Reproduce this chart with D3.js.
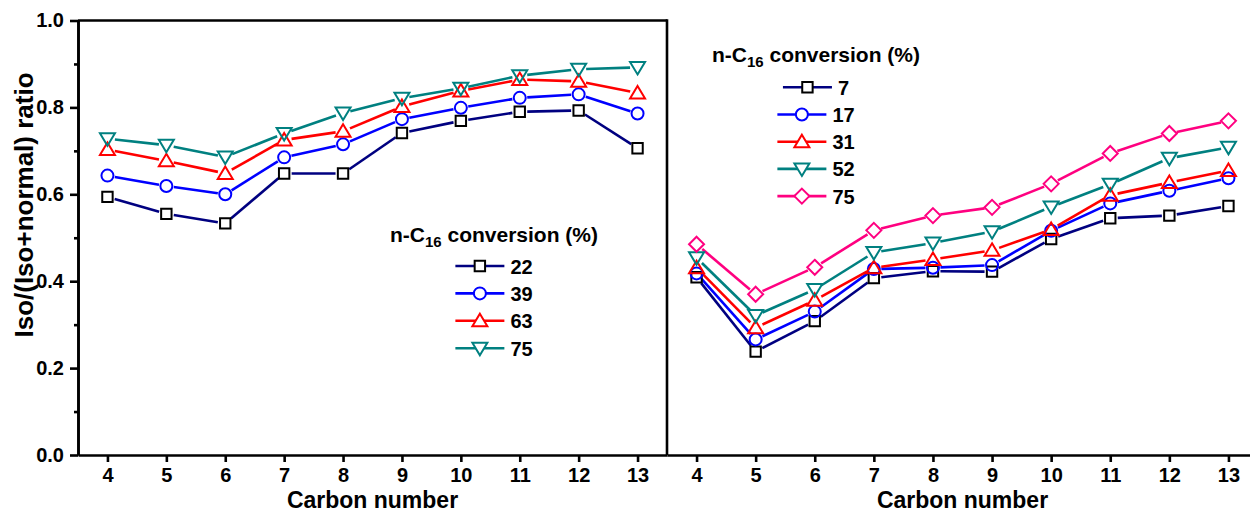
<script src="https://cdn.jsdelivr.net/npm/d3@7"></script>
<html>
<body style="margin:0;background:#fff">
<svg id="chart" width="1250" height="517"></svg>
<script>
// carbon numbers on the x axis
var carbons = [4, 5, 6, 7, 8, 9, 10, 11, 12, 13];
var yTicks = [0, 0.2, 0.4, 0.6, 0.8, 1.0];
var yMinor = [0.1, 0.3, 0.5, 0.7, 0.9];

// left panel: n-C16 conversion 22, 39, 63, 75 %
var leftNames = ["22", "39", "63", "75"];
var left22 = [0.594, 0.555, 0.533, 0.648, 0.648, 0.741, 0.769, 0.790, 0.793, 0.706];
var left39 = [0.643, 0.619, 0.600, 0.685, 0.715, 0.773, 0.799, 0.822, 0.830, 0.786];
var left63 = [0.703, 0.677, 0.648, 0.725, 0.745, 0.802, 0.838, 0.864, 0.860, 0.833];
var left75 = [0.728, 0.713, 0.686, 0.740, 0.787, 0.821, 0.844, 0.873, 0.888, 0.892];

// right panel: n-C16 conversion 7, 17, 31, 52, 75 %
var rightNames = ["7", "17", "31", "52", "75"];
var right7  = [0.409, 0.238, 0.308, 0.407, 0.423, 0.422, 0.497, 0.545, 0.551, 0.573];
var right17 = [0.418, 0.266, 0.330, 0.428, 0.431, 0.437, 0.516, 0.579, 0.608, 0.637];
var right31 = [0.431, 0.293, 0.356, 0.431, 0.450, 0.471, 0.519, 0.598, 0.627, 0.655];
var right52 = [0.454, 0.321, 0.381, 0.466, 0.488, 0.514, 0.571, 0.623, 0.683, 0.708];
var right75 = [0.485, 0.370, 0.432, 0.517, 0.551, 0.570, 0.624, 0.694, 0.740, 0.769];

var svg = d3.select("#chart");
var FONT = "'Liberation Sans', Arial, sans-serif";

var y = d3.scaleLinear().domain([0, 1]).range([455, 20.5]);
var xL = d3.scaleLinear().domain([3.5, 13.5]).range([78, 667]);
var xR = d3.scaleLinear().domain([3.5, 13.5]).range([667, 1258]);

// marker shapes
var shapes = {
  square: "M-5.2,-5.2h10.4v10.4h-10.4Z",
  circle: d3.symbol().type(d3.symbolCircle).size(Math.PI * 36)(),
  up: "M0,-7L7.5,5.5L-7.5,5.5Z",
  down: "M0,7L7.5,-5.5L-7.5,-5.5Z",
  diamond: "M0,-7.5L7.5,0L0,7.5L-7.5,0Z"
};

var leftSeries = [
  {name: leftNames[0], vals: left22, line: "#000080", mark: "#000000", shape: "square"},
  {name: leftNames[1], vals: left39, line: "#0000ff", mark: "#0000ff", shape: "circle"},
  {name: leftNames[2], vals: left63, line: "#ff0000", mark: "#ff0000", shape: "up"},
  {name: leftNames[3], vals: left75, line: "#008080", mark: "#008080", shape: "down"}
];
var rightSeries = [
  {name: rightNames[0], vals: right7,  line: "#000080", mark: "#000000", shape: "square"},
  {name: rightNames[1], vals: right17, line: "#0000ff", mark: "#0000ff", shape: "circle"},
  {name: rightNames[2], vals: right31, line: "#ff0000", mark: "#ff0000", shape: "up"},
  {name: rightNames[3], vals: right52, line: "#008080", mark: "#008080", shape: "down"},
  {name: rightNames[4], vals: right75, line: "#ff0080", mark: "#ff0080", shape: "diamond"}
];

// lines with a gap around each marker, like Origin draws them
function drawPanel(x, series) {
  var g = svg.append("g");
  var gap = 7.5;
  series.forEach(function(s) {
    var pts = s.vals.map(function(v, i) { return [x(carbons[i]), y(v)]; });
    var segs = d3.pairs(pts);
    g.selectAll(null).data(segs).enter().append("line")
      .attr("x1", function(d) { return cut(d[0], d[1], gap)[0]; })
      .attr("y1", function(d) { return cut(d[0], d[1], gap)[1]; })
      .attr("x2", function(d) { return cut(d[1], d[0], gap)[0]; })
      .attr("y2", function(d) { return cut(d[1], d[0], gap)[1]; })
      .attr("stroke", s.line)
      .attr("stroke-width", 2.6);
  });
  series.forEach(function(s) {
    g.selectAll(null).data(s.vals).enter().append("path")
      .attr("d", shapes[s.shape])
      .attr("transform", function(d, i) { return "translate(" + x(carbons[i]) + "," + y(d) + ")"; })
      .attr("fill", "none")
      .attr("stroke", s.mark)
      .attr("stroke-width", 2);
  });
}
function cut(a, b, r) {
  var dx = b[0] - a[0], dy = b[1] - a[1];
  var len = Math.sqrt(dx * dx + dy * dy);
  return [a[0] + dx / len * r, a[1] + dy / len * r];
}

// axes
function styleAxis(g, size) {
  g.selectAll("path.domain").attr("stroke", "#000").attr("stroke-width", 2.6);
  g.selectAll(".tick line").attr("stroke", "#000").attr("stroke-width", 2.6);
  g.selectAll(".tick text").attr("fill", "#000")
    .style("font-family", FONT).style("font-weight", "bold").style("font-size", size + "px");
}

var xAxL = svg.append("g").attr("transform", "translate(0,455)")
  .call(d3.axisBottom(xL).tickValues(carbons).tickSize(7).tickSizeOuter(0).tickPadding(6).tickFormat(d3.format("d")));
styleAxis(xAxL, 20);
var xAxR = svg.append("g").attr("transform", "translate(0,455)")
  .call(d3.axisBottom(xR).tickValues(carbons).tickSize(7).tickSizeOuter(0).tickPadding(6).tickFormat(d3.format("d")));
styleAxis(xAxR, 20);

var yAx = svg.append("g").attr("transform", "translate(" + xL.range()[0] + ",0)")
  .call(d3.axisLeft(y).tickValues(yTicks).tickSize(8).tickSizeOuter(0).tickPadding(6).tickFormat(d3.format(".1f")));
styleAxis(yAx, 20);
var yMin = svg.append("g").attr("transform", "translate(" + xL.range()[0] + ",0)")
  .call(d3.axisLeft(y).tickValues(yMinor).tickSize(4).tickSizeOuter(0).tickFormat(""));
styleAxis(yMin, 20);

// top border of left panel and the divider
svg.append("line")
  .attr("x1", xL.range()[0]).attr("x2", xL.range()[1])
  .attr("y1", y(1)).attr("y2", y(1))
  .attr("stroke", "#000").attr("stroke-width", 2.6);
svg.append("line")
  .attr("x1", xL.range()[1]).attr("x2", xL.range()[1])
  .attr("y1", y(1) - 1.3).attr("y2", y(0))
  .attr("stroke", "#000").attr("stroke-width", 2.6);

drawPanel(xL, leftSeries);
drawPanel(xR, rightSeries);

// axis titles
svg.append("text")
  .attr("x", (xL.range()[0] + xL.range()[1]) / 2).attr("y", 508)
  .attr("text-anchor", "middle")
  .style("font-family", FONT).style("font-weight", "bold").style("font-size", "23px")
  .text("Carbon number");
svg.append("text")
  .attr("x", (xR(3.5) + xR(13.5)) / 2).attr("y", 508)
  .attr("text-anchor", "middle")
  .style("font-family", FONT).style("font-weight", "bold").style("font-size", "23px")
  .text("Carbon number");
svg.append("text")
  .attr("transform", "translate(33,205) rotate(-90)")
  .attr("text-anchor", "middle")
  .style("font-family", FONT).style("font-weight", "bold").style("font-size", "26px")
  .text("Iso/(Iso+normal) ratio");

// legends
function legend(cx, titleY, rowY, step, series) {
  var g = svg.append("g");
  var t = g.append("text")
    .attr("x", cx).attr("y", titleY)
    .attr("text-anchor", "middle")
    .style("font-family", FONT).style("font-weight", "bold").style("font-size", "21px");
  t.append("tspan").text("n-C");
  t.append("tspan").attr("dy", 5).style("font-size", "15px").text("16");
  t.append("tspan").attr("dy", -5).text(" conversion (%)");

  series.forEach(function(s, i) {
    var ry = rowY + i * step;
    var row = g.append("g");
    var lab = row.append("text")
      .attr("y", ry + 7.5)
      .style("font-family", FONT).style("font-weight", "bold").style("font-size", "20px")
      .text(s.name);
    var tw = lab.node().getComputedTextLength();
    var x0 = cx - (49 + 6 + tw) / 2;
    lab.attr("x", x0 + 55);
    row.append("line")
      .attr("x1", x0).attr("x2", x0 + 49).attr("y1", ry).attr("y2", ry)
      .attr("stroke", s.line).attr("stroke-width", 2.6);
    row.append("path")
      .attr("d", shapes[s.shape])
      .attr("transform", "translate(" + (x0 + 24.5) + "," + ry + ")")
      .attr("fill", "#fff")
      .attr("stroke", s.mark).attr("stroke-width", 2);
  });
}
legend(494, 242, 266, 27.4, leftSeries);
legend(816, 62, 87.3, 27.2, rightSeries);
</script>
</body>
</html>
